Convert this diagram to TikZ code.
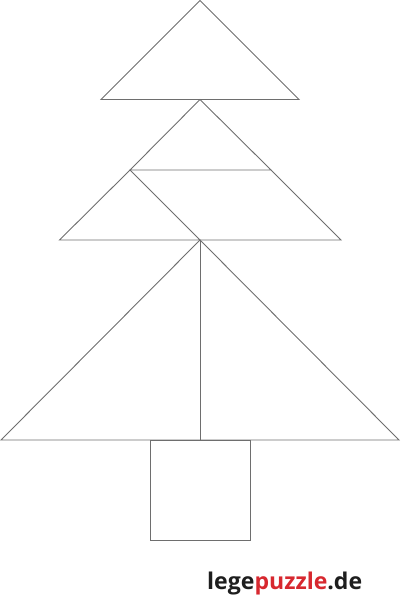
\documentclass[tikz,border=0pt]{standalone}
\usepackage{fontspec}
\newfontfamily\logofont{Open Sans}
\definecolor{linegray}{HTML}{6E6E6E}
\definecolor{logored}{HTML}{D7282F}
\definecolor{logoblack}{HTML}{1E1E1E}
\tikzset{piece/.style={draw=linegray,line width=0.9pt,line join=miter}}
\begin{document}
\begin{tikzpicture}[x=1pt,y=-1pt]
\useasboundingbox (0,0) rectangle (400,598);
% coordinates
\coordinate (top) at (200,0.5);
\coordinate (tl) at (101,99.5);
\coordinate (tr) at (299,99.5);
\coordinate (ma) at (200,99.5);
\coordinate (ml) at (130,170);
\coordinate (mr) at (271,170);
\coordinate (bl) at (59.5,240);
\coordinate (br) at (341,240);
\coordinate (bm) at (200,240);
\coordinate (gl) at (1,440);
\coordinate (gr) at (399,440);
\coordinate (gm) at (200,440);
% top triangle
\draw[piece] (top) -- (tl) -- (tr) -- cycle;
% middle part
\draw[piece] (ma) -- (ml) -- (mr) -- cycle;
\draw[piece] (ml) -- (bl) -- (bm) -- cycle;
\draw[piece] (mr) -- (br) -- (bm);
% lower big triangles
\draw[piece] (bm) -- (gl) -- (gr) -- cycle;
\draw[piece] (bm) -- (gm);
% trunk
\draw[piece] (150,440) rectangle (250,540);
% logo
\node[anchor=base west,inner sep=0pt] (logo) at (207,589)
  {\resizebox{155pt}{!}{\logofont\bfseries\color{logoblack}lege\textcolor{logored}{puzzle}.de}};
\end{tikzpicture}
\end{document}
